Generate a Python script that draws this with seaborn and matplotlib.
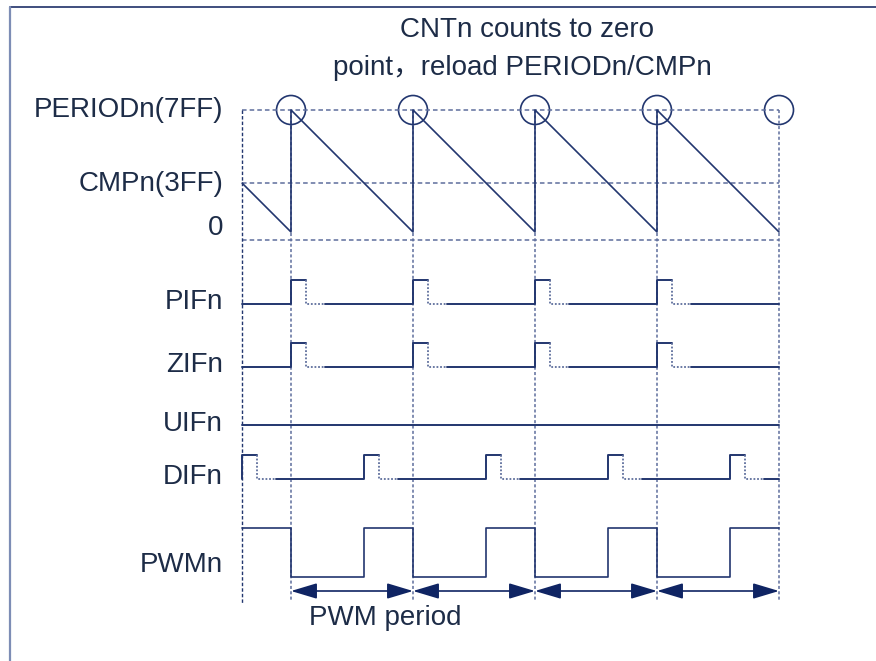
import numpy as np
import pandas as pd
import matplotlib.pyplot as plt
import seaborn as sns
from matplotlib.patches import Ellipse

# timing data, in units of one PWM period
t_start = -0.4
t_end = 4.0
reload_times = [0, 1, 2, 3, 4]          # counter hits zero -> reload
counter_t = [-0.4, 0, 0, 1, 1, 2, 2, 3, 3, 4]
counter_v = [0.4, 0, 1, 0, 1, 0, 1, 0, 1, 0]   # fraction of PERIODn
cmp_level = 0.4
zero_line_level = -0.066
pulse_width = 0.12
clear_gap = 0.16
pif_times = [0, 1, 2, 3]
zif_times = [0, 1, 2, 3]
uif_times = []
dif_times = [-0.4, 0.6, 1.6, 2.6, 3.6]
pwm_t = [-0.4, 0, 0, 0.6, 0.6, 1, 1, 1.6, 1.6, 2, 2, 2.6, 2.6, 3, 3, 3.6, 3.6, 4]
pwm_v = [1, 1, 0, 0, 1, 1, 0, 0, 1, 1, 0, 0, 1, 1, 0, 0, 1, 1]
period_arrows = [(0, 1), (1, 2), (2, 3), (3, 4)]

row_labels = ['PIFn', 'ZIFn', 'UIFn', 'DIFn', 'PWMn']
level_labels = ['PERIODn(7FF)', 'CMPn(3FF)', '0']
title_lines = ['CNTn counts to zero', 'point，reload PERIODn/CMPn']

# layout (pixels from top)
X0, PX = 291, 122
CNT_ZERO, CNT_AMP = 232, 122
rows = {'PIFn': 304, 'ZIFn': 367, 'UIFn': 425, 'DIFn': 479}
FLAG_H = 24
PWM_LOW, PWM_H = 577, 49

NAVY = '#22366f'
GRID = '#5e6e9c'
TXT = '#1d2c47'

sns.set_theme(style='white')
plt.rcParams['font.family'] = ['Liberation Sans', 'Noto Sans CJK SC', 'DejaVu Sans']

fig = plt.figure(figsize=(8.76, 6.61), dpi=100)
ax = fig.add_axes([0, 0, 1, 1])
ax.set_xlim((0 - X0) / PX, (876 - X0) / PX)
ax.set_ylim(661, 0)
ax.axis('off')


def px(x):
    return (x - X0) / PX


def cnt_y(v):
    return CNT_ZERO - np.asarray(v, dtype=float) * CNT_AMP


# frame
ax.plot([px(10), px(876)], [7, 7], color='#1f3068', lw=1.2)
ax.plot([px(10), px(10)], [7, 661], color='#7d8db5', lw=1.6)

# dashed guide lines
for lv in [1.0, cmp_level, zero_line_level]:
    ax.plot([t_start, t_end], [cnt_y(lv)] * 2, color=GRID, lw=1.1, ls=(0, (3, 2)))
ax.plot([t_start, t_start], [cnt_y(1.0), 603], color=NAVY, lw=1.0, ls=(0, (2.5, 1.5)))
for t in reload_times:
    ax.plot([t, t], [cnt_y(1.0), 601], color=GRID, lw=1.1, ls=(0, (2, 1.5)))

# counter sawtooth
cnt = pd.DataFrame({'t': counter_t, 'y': cnt_y(counter_v)})
sns.lineplot(data=cnt, x='t', y='y', sort=False, estimator=None, ax=ax,
             color=NAVY, lw=1.2)

# reload circles
for t in reload_times:
    ax.add_patch(Ellipse((t, cnt_y(1.0)), 29 / PX, 29, fill=False,
                         edgecolor=NAVY, lw=1.2))


def flag_row(times, base):
    hi = base - FLAG_H
    pos = t_start
    for p in times:
        seg = pd.DataFrame({'t': [pos, p, p, p + pulse_width],
                            'y': [base, base, hi, hi]})
        sns.lineplot(data=seg, x='t', y='y', sort=False, estimator=None,
                     ax=ax, color=NAVY, lw=1.4)
        ax.plot([p + pulse_width, p + pulse_width, p + pulse_width + clear_gap],
                [hi, base, base], color=GRID, lw=1.3, ls=(0, (1, 1)))
        pos = p + pulse_width + clear_gap
    ax.plot([pos, t_end], [base, base], color=NAVY, lw=1.4)


flag_row(pif_times, rows['PIFn'])
flag_row(zif_times, rows['ZIFn'])
flag_row(uif_times, rows['UIFn'])
flag_row(dif_times, rows['DIFn'])

pwm = pd.DataFrame({'t': pwm_t, 'y': PWM_LOW - np.array(pwm_v) * PWM_H})
sns.lineplot(data=pwm, x='t', y='y', sort=False, estimator=None, ax=ax,
             color=NAVY, lw=1.2)

# period arrows
for a, b in period_arrows:
    ax.annotate('', xy=(b, 591), xytext=(a, 591),
                arrowprops=dict(arrowstyle='<|-|>,head_length=1.0,head_width=0.3',
                                mutation_scale=16, color='#0f2463', lw=1.2,
                                shrinkA=0, shrinkB=0))

# texts
fs = 20
label_y = [110, 184, 228]
for s, y in zip(level_labels, label_y):
    ax.text(px(223), y, s, ha='right', va='center', fontsize=fs, color=TXT)
for s, y in zip(row_labels, [302, 365, 424, 477, 565]):
    ax.text(px(223), y, s, ha='right', va='center', fontsize=fs, color=TXT)
ax.text(px(527), 37, title_lines[0], ha='center', va='baseline', fontsize=fs, color=TXT)
ax.text(px(522), 75, title_lines[1], ha='center', va='baseline', fontsize=fs, color=TXT)
ax.text(px(385), 625, 'PWM period', ha='center', va='baseline', fontsize=fs, color=TXT)

fig.savefig('out.png', dpi=100)
